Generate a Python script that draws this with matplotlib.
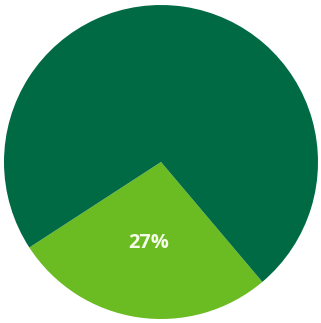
import matplotlib.pyplot as plt

shares = [27, 73]
colors = ['#6bbb23', '#006a45']

fig = plt.figure(figsize=(3.21, 3.23), dpi=100)
ax = fig.add_axes([0, 0, 1, 1])

r = 157
cx, cy = 161, 161


def pct(p):
    return '%d%%' % round(p) if p < 50 else ''


wedges, texts, autotexts = ax.pie(shares, colors=colors, startangle=213,
                                  autopct=pct, pctdistance=0.52,
                                  radius=1, frame=True,
                                  wedgeprops=dict(linewidth=0))
for t in autotexts:
    t.set_color('#f4fbe8')
    t.set_fontsize(14.5)
    t.set_fontweight('bold')
    t.set_family('Open Sans')

ax.set_xlim(-cx / r, (321 - cx) / r)
ax.set_ylim(-cy / r, (323 - cy) / r)
ax.axis('off')

fig.savefig('out.png', dpi=100)
